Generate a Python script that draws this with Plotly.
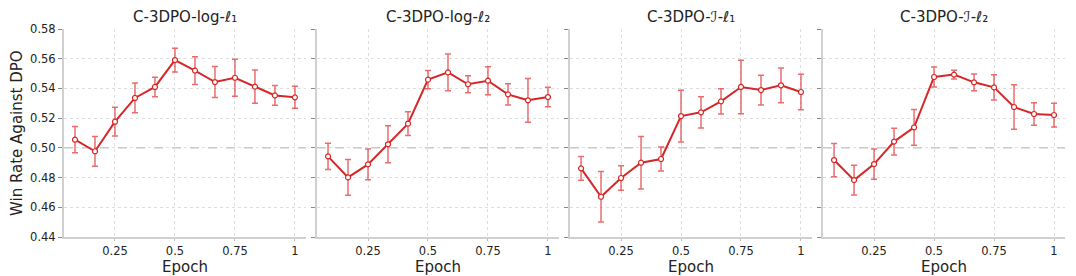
import plotly.graph_objects as go

epochs = [1/12, 2/12, 3/12, 4/12, 5/12, 6/12, 7/12, 8/12, 9/12, 10/12, 11/12, 1.0]
titles = ["C-3DPO-log-ℓ₁", "C-3DPO-log-ℓ₂", "C-3DPO-ℐ-ℓ₁", "C-3DPO-ℐ-ℓ₂"]

log_l1 = [0.5055, 0.4977, 0.5176, 0.5336, 0.5410, 0.5591, 0.5520, 0.5443, 0.5472, 0.5412, 0.5353, 0.5340]
log_l1_err = [0.0088, 0.0100, 0.0097, 0.0100, 0.0066, 0.0080, 0.0094, 0.0104, 0.0124, 0.0112, 0.0067, 0.0074]
log_l2 = [0.4943, 0.4801, 0.4889, 0.5024, 0.5163, 0.5459, 0.5508, 0.5428, 0.5452, 0.5360, 0.5320, 0.5342]
log_l2_err = [0.0088, 0.0120, 0.0104, 0.0125, 0.0080, 0.0062, 0.0124, 0.0057, 0.0094, 0.0072, 0.0147, 0.0066]
j_l1 = [0.4862, 0.4671, 0.4797, 0.4900, 0.4925, 0.5214, 0.5239, 0.5313, 0.5410, 0.5389, 0.5421, 0.5376]
j_l1_err = [0.0080, 0.0170, 0.0083, 0.0177, 0.0080, 0.0174, 0.0105, 0.0085, 0.0180, 0.0100, 0.0117, 0.0119]
j_l2 = [0.4918, 0.4783, 0.4891, 0.5042, 0.5138, 0.5477, 0.5493, 0.5441, 0.5407, 0.5275, 0.5228, 0.5221]
j_l2_err = [0.0112, 0.0100, 0.0102, 0.0090, 0.0120, 0.0067, 0.0030, 0.0056, 0.0085, 0.0150, 0.0075, 0.0080]

series = [(log_l1, log_l1_err), (log_l2, log_l2_err), (j_l1, j_l1_err), (j_l2, j_l2_err)]

x_ticks = [0.25, 0.5, 0.75, 1.0]
x_tick_text = ["0.25", "0.5", "0.75", "1"]
y_ticks = [0.44, 0.46, 0.48, 0.50, 0.52, 0.54, 0.56, 0.58]

LINE = "#d62728"
ERR = "rgba(226,60,60,0.75)"
FONT = "DejaVu Sans"
TXT = "#222222"

W, H = 1076, 276
ml, mr, mt, mb = 64, 10.7, 29.3, 38.7
pw = W - ml - mr
ph = H - mt - mb
panel_w = 242
step = 253.1

fig = go.Figure()
for i, ((vals, errs), title) in enumerate(zip(series, titles)):
    n = i + 1
    xa = "x" if n == 1 else f"x{n}"
    ya = "y" if n == 1 else f"y{n}"
    x0 = i * step / pw
    x1 = min((i * step + panel_w) / pw, 1)
    fig.add_trace(go.Scatter(
        x=epochs, y=vals, xaxis=xa, yaxis=ya, mode="lines+markers",
        line=dict(color=LINE, width=2),
        marker=dict(size=5, color="white", line=dict(color=LINE, width=1.2)),
        error_y=dict(type="data", array=errs, visible=True, color=ERR, thickness=1.5, width=3),
        showlegend=False,
    ))
    axk = "xaxis" if n == 1 else f"xaxis{n}"
    ayk = "yaxis" if n == 1 else f"yaxis{n}"
    fig.layout[axk] = dict(
        domain=[x0, x1], anchor=ya, range=[0.0375, 1.0458], automargin=False,
        tickvals=x_ticks, ticktext=x_tick_text,
        showgrid=True, gridcolor="rgba(200,200,200,0.6)", griddash="dot", gridwidth=1,
        showline=True, linecolor="#d0d0d0", linewidth=2,
        ticks="outside", ticklen=2, tickcolor="#bbbbbb",
        tickfont=dict(family=FONT, size=11.5, color=TXT),
        zeroline=False,
    )
    fig.layout[ayk] = dict(
        domain=[0, 1], anchor=xa, range=[0.44, 0.58], automargin=False,
        tickvals=y_ticks, ticktext=[f"{v:.2f}" for v in y_ticks],
        showticklabels=(n == 1),
        showgrid=True, gridcolor="rgba(200,200,200,0.6)", griddash="dot", gridwidth=1,
        showline=True, linecolor="#d0d0d0", linewidth=2,
        ticks="outside", ticklen=4, tickcolor="#888888",
        tickfont=dict(family=FONT, size=11.5, color=TXT),
        zeroline=False,
    )
    fig.add_shape(type="line", xref=f"{xa} domain", yref=ya, x0=0, x1=1, y0=0.5, y1=0.5,
                  line=dict(color="#b0b0b0", width=1, dash="dash"), layer="below")
    fig.add_annotation(text=title, xref="paper", yref="paper", x=(x0 + x1) / 2, xanchor="center",
                       y=1 + (mt - 17) / ph, yanchor="middle", showarrow=False,
                       font=dict(family=FONT, size=15, color=TXT))
    fig.add_annotation(text="Epoch", xref="paper", yref="paper", x=(x0 + x1) / 2, xanchor="center",
                       y=-(267 - (H - mb)) / ph, yanchor="middle", showarrow=False,
                       font=dict(family=FONT, size=15, color=TXT))

fig.add_annotation(text="Win Rate Against DPO", xref="paper", yref="paper",
                   x=-(ml - 17) / pw, xanchor="center", y=0.5, yanchor="middle",
                   textangle=-90, showarrow=False, font=dict(family=FONT, size=15, color=TXT))

fig.update_layout(
    width=W, height=H,
    margin=dict(l=ml, r=mr, t=mt, b=mb),
    plot_bgcolor="white", paper_bgcolor="white",
)
fig.write_html("out.html", config={"displayModeBar": False},
               post_script="document.body.style.margin='0';document.body.style.overflow='hidden';")
